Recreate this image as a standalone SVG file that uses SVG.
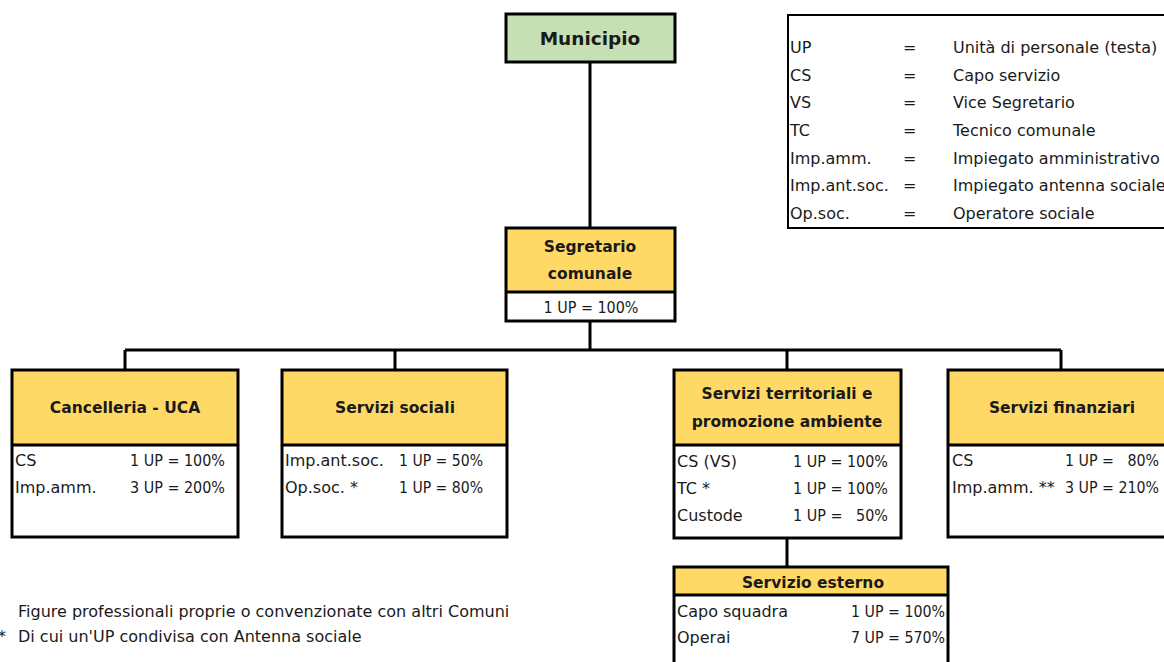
<svg xmlns="http://www.w3.org/2000/svg" width="1164" height="662" viewBox="0 0 1164 662">
<style>
text{font-family:"DejaVu Sans",Verdana,sans-serif;fill:#1a1a1a;}
.t{font-size:16px;}
.b{font-size:15.5px;font-weight:bold;text-anchor:middle;}
.r{text-anchor:end;}
.hdr{fill:#FFD966;}
.box{fill:none;stroke:#000;stroke-width:3;}
.line{stroke:#000;stroke-width:3;fill:none;}
</style>
<rect width="1164" height="662" fill="#fff"/>
<g id="connectors">
<path class="line" d="M590 62V228M590 321V350M125 350H1061M125 350V370M395 350V370M787 350V370M1061 350V370M787 538V567"/>
</g>
<g id="municipio">
<rect x="506" y="14" width="169" height="48" fill="#C6E0B4"/>
<rect class="box" x="506" y="14" width="169" height="48"/>
<text class="b" x="590" y="45" style="font-size:18.5px">Municipio</text>
</g>
<g id="legenda">
<rect x="788" y="15" width="380" height="213" fill="#fff" stroke="#000" stroke-width="2"/>
<text class="t" x="790" y="53">UP</text><text class="t" x="903" y="53">=</text><text class="t" x="953" y="53">Unità di personale (testa)</text>
<text class="t" x="790" y="81">CS</text><text class="t" x="903" y="81">=</text><text class="t" x="953" y="81">Capo servizio</text>
<text class="t" x="790" y="108">VS</text><text class="t" x="903" y="108">=</text><text class="t" x="953" y="108">Vice Segretario</text>
<text class="t" x="790" y="136">TC</text><text class="t" x="903" y="136">=</text><text class="t" x="953" y="136">Tecnico comunale</text>
<text class="t" x="790" y="164">Imp.amm.</text><text class="t" x="903" y="164">=</text><text class="t" x="953" y="164">Impiegato amministrativo</text>
<text class="t" x="790" y="191">Imp.ant.soc.</text><text class="t" x="903" y="191">=</text><text class="t" x="953" y="191">Impiegato antenna sociale</text>
<text class="t" x="790" y="219">Op.soc.</text><text class="t" x="903" y="219">=</text><text class="t" x="953" y="219">Operatore sociale</text>
</g>
<g id="segretario">
<rect class="hdr" x="506" y="228" width="169" height="64"/>
<rect class="box" x="506" y="228" width="169" height="93"/>
<line class="line" x1="506" y1="292" x2="675" y2="292"/>
<text class="b" x="590" y="252">Segretario</text>
<text class="b" x="590" y="279">comunale</text>
<text class="t" x="591" y="313" text-anchor="middle" textLength="95" lengthAdjust="spacingAndGlyphs">1 UP = 100%</text>
</g>
<g id="cancelleria">
<rect class="hdr" x="12" y="370" width="226" height="75"/>
<rect class="box" x="12" y="370" width="226" height="167"/>
<line class="line" x1="12" y1="445" x2="238" y2="445"/>
<text class="b" x="125" y="413">Cancelleria - UCA</text>
<text class="t" x="15" y="466">CS</text><text class="t r" x="225" y="466" textLength="95" lengthAdjust="spacingAndGlyphs">1 UP = 100%</text>
<text class="t" x="15" y="493">Imp.amm.</text><text class="t r" x="225" y="493" textLength="95" lengthAdjust="spacingAndGlyphs">3 UP = 200%</text>
</g>
<g id="servizi-sociali">
<rect class="hdr" x="282" y="370" width="225" height="75"/>
<rect class="box" x="282" y="370" width="225" height="167"/>
<line class="line" x1="282" y1="445" x2="507" y2="445"/>
<text class="b" x="395" y="413">Servizi sociali</text>
<text class="t" x="285" y="466">Imp.ant.soc.</text><text class="t" x="399" y="466" textLength="84" lengthAdjust="spacingAndGlyphs">1 UP = 50%</text>
<text class="t" x="285" y="493">Op.soc. *</text><text class="t" x="399" y="493" textLength="84" lengthAdjust="spacingAndGlyphs">1 UP = 80%</text>
</g>
<g id="servizi-territoriali">
<rect class="hdr" x="674" y="370" width="227" height="75"/>
<rect class="box" x="674" y="370" width="227" height="168"/>
<line class="line" x1="674" y1="445" x2="901" y2="445"/>
<text class="b" x="787" y="399">Servizi territoriali e</text>
<text class="b" x="787" y="427">promozione ambiente</text>
<text class="t" x="677" y="467">CS (VS)</text><text class="t r" x="888" y="467" textLength="95" lengthAdjust="spacingAndGlyphs">1 UP = 100%</text>
<text class="t" x="677" y="494">TC *</text><text class="t r" x="888" y="494" textLength="95" lengthAdjust="spacingAndGlyphs">1 UP = 100%</text>
<text class="t" x="677" y="521">Custode</text><text class="t r" x="888" y="521" textLength="95" lengthAdjust="spacingAndGlyphs" xml:space="preserve">1 UP =   50%</text>
</g>
<g id="servizi-finanziari">
<rect class="hdr" x="948" y="370" width="220" height="75"/>
<rect class="box" x="948" y="370" width="220" height="167"/>
<line class="line" x1="948" y1="445" x2="1168" y2="445"/>
<text class="b" x="1062" y="413">Servizi finanziari</text>
<text class="t" x="952" y="466">CS</text><text class="t r" x="1159" y="466" textLength="94" lengthAdjust="spacingAndGlyphs" xml:space="preserve">1 UP =   80%</text>
<text class="t" x="952" y="493">Imp.amm. **</text><text class="t r" x="1159" y="493" textLength="94" lengthAdjust="spacingAndGlyphs">3 UP = 210%</text>
</g>
<g id="servizio-esterno">
<rect class="hdr" x="674" y="567" width="274" height="28"/>
<rect class="box" x="674" y="567" width="274" height="110"/>
<line class="line" x1="674" y1="595" x2="948" y2="595"/>
<text class="b" x="813" y="588">Servizio esterno</text>
<text class="t" x="677" y="617">Capo squadra</text><text class="t r" x="945" y="617" textLength="94" lengthAdjust="spacingAndGlyphs">1 UP = 100%</text>
<text class="t" x="677" y="643">Operai</text><text class="t r" x="945" y="643" textLength="94" lengthAdjust="spacingAndGlyphs">7 UP = 570%</text>
</g>
<g id="note">
<text class="t" x="18" y="617">Figure professionali proprie o convenzionate con altri Comuni</text>
<text class="t" x="-2" y="642">*</text>
<text class="t" x="18" y="642">Di cui un'UP condivisa con Antenna sociale</text>
</g>
</svg>
